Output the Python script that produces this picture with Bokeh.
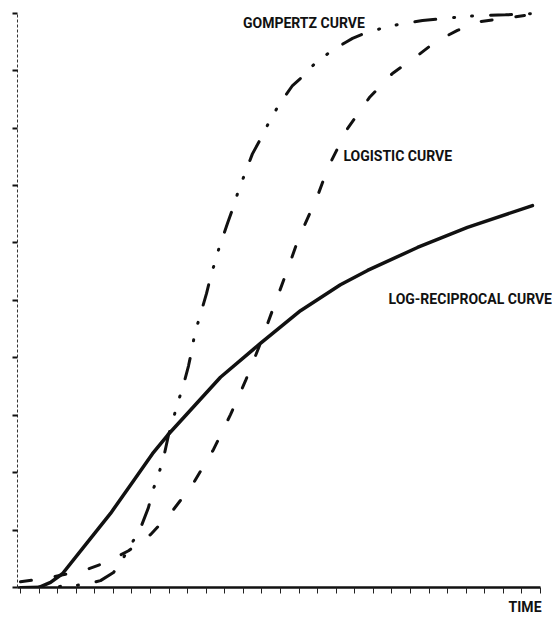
from bokeh.plotting import figure
from bokeh.models import Range1d, FixedTicker, Label, CustomJSTickFormatter, Title
from bokeh.embed import file_html
from bokeh.resources import INLINE

# ---- data (time units on x, growth units on y) ----
gompertz_x = [0.0, 2.15, 3.50, 4.31, 5.01, 5.55, 6.46, 6.89, 7.16, 7.38, 7.70, 7.97,
              8.24, 8.40, 8.72, 9.05, 9.26, 9.37, 9.64, 10.02, 10.23, 10.45, 10.72,
              11.15, 11.47, 11.69, 12.01, 12.49, 13.03, 13.35, 13.89, 14.65, 15.24,
              15.62, 16.16, 16.96, 17.50, 17.88, 18.47, 19.39, 20.30, 21.65, 22.62,
              23.86, 24.88, 26.12, 27.46]
gompertz_y = [0.0, 0.02, 0.05, 0.12, 0.26, 0.52, 1.03, 1.39, 1.72, 1.91, 2.25, 2.65,
              2.94, 3.15, 3.46, 3.86, 4.18, 4.40, 4.70, 5.12, 5.40, 5.64, 5.94,
              6.34, 6.63, 6.86, 7.14, 7.55, 7.87, 8.08, 8.39, 8.74, 8.91,
              9.05, 9.21, 9.38, 9.49, 9.56, 9.64, 9.73, 9.80, 9.87, 9.90,
              9.94, 9.96, 9.97, 9.99]

logistic_x = [0.0, 1.35, 2.42, 3.45, 4.63, 5.82, 7.00, 8.13, 9.26, 10.39, 11.31, 12.12,
              12.92, 13.62, 14.32, 14.97, 15.99, 16.59, 17.61, 18.79, 20.03, 21.38,
              22.35, 23.53, 24.66, 25.85, 27.14]
logistic_y = [0.10, 0.16, 0.23, 0.30, 0.44, 0.64, 0.92, 1.31, 1.79, 2.40, 3.01, 3.60,
              4.25, 4.87, 5.48, 6.07, 6.81, 7.33, 7.99, 8.53, 8.95, 9.26,
              9.50, 9.70, 9.85, 9.90, 9.96]

logrecip_x = [0.97, 1.62, 2.26, 3.39, 4.85, 6.09, 7.11, 7.92, 8.99, 10.77, 12.92,
              15.08, 17.23, 18.69, 21.38, 24.07, 27.57]
logrecip_y = [0.0, 0.09, 0.24, 0.70, 1.29, 1.86, 2.33, 2.65, 3.03, 3.66, 4.25,
              4.82, 5.27, 5.52, 5.92, 6.27, 6.65]

time_ticks = list(range(0, 29))
growth_ticks = list(range(0, 11))

curve_names = ["GOMPERTZ CURVE", "LOGISTIC CURVE", "LOG-RECIPROCAL CURVE"]
x_title = "TIME"

FONT = "Roboto"
FONT_SIZE = "14px"
INK = "#111111"

p = figure(width=552, height=623, output_backend="svg", toolbar_location=None,
           x_range=Range1d(-0.16, 28.65), y_range=Range1d(0, 10.22),
           min_border_left=17, min_border_right=0, min_border_top=0,
           min_border_bottom=36, background_fill_color="white",
           border_fill_color="white")
p.grid.visible = False
p.outline_line_color = None

# x axis
xa = p.xaxis[0]
xa.ticker = FixedTicker(ticks=time_ticks)
xa.formatter = CustomJSTickFormatter(code="return ''")
xa.bounds = (-0.16, 28)
xa.major_label_standoff = 0
xa.major_tick_out = 6
xa.major_tick_in = 0
xa.major_tick_line_width = 1
xa.major_tick_line_color = "#222222"
xa.minor_tick_line_color = None
xa.axis_line_width = 2.5
xa.axis_line_color = INK

# "TIME" caption at the right end, under the time axis
p.add_layout(Title(text=x_title, align="right", offset=11, standoff=7,
                   text_font=FONT, text_font_style="bold",
                   text_font_size=FONT_SIZE, text_color=INK), "below")

# y axis
ya = p.yaxis[0]
ya.ticker = FixedTicker(ticks=growth_ticks)
ya.formatter = CustomJSTickFormatter(code="return ''")
ya.bounds = (0, 10)
ya.major_label_standoff = 0
ya.major_tick_out = 5
ya.major_tick_in = 0
ya.major_tick_line_width = 2
ya.major_tick_line_color = INK
ya.minor_tick_line_color = None
ya.axis_line_width = 1
ya.axis_line_color = "#333333"
ya.axis_line_dash = "3 2"

# curves
p.line(gompertz_x, gompertz_y, line_color=INK, line_width=3,
       line_dash="21 18 1 17 1 18", line_cap="round")
p.line(logistic_x, logistic_y, line_color=INK, line_width=3,
       line_dash="11 24", line_cap="round")
p.line(logrecip_x, logrecip_y, line_color=INK, line_width=3.5,
       line_cap="round", line_join="round")

label_pos = [(11.98, 9.82), (17.39, 7.52), (19.82, 5.03)]
for name, (lx, ly) in zip(curve_names, label_pos):
    p.add_layout(Label(x=lx, y=ly, text=name, text_font=FONT,
                       text_font_style="bold", text_font_size=FONT_SIZE,
                       text_color=INK, text_baseline="alphabetic"))

open("out.html", "w").write(file_html(p, INLINE))
